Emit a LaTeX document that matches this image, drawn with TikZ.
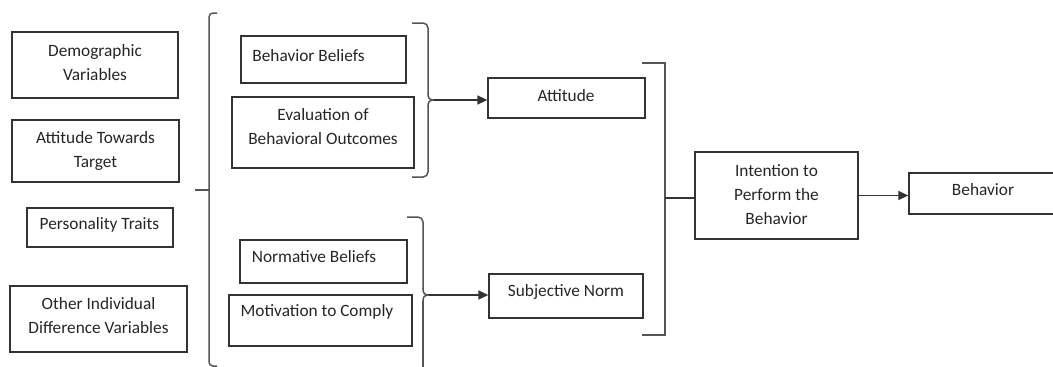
\documentclass[tikz,border=0pt]{standalone}
\usepackage{fontspec}
\setmainfont{Carlito}
\usetikzlibrary{arrows.meta,calc}
\definecolor{linec}{HTML}{333333}
\definecolor{brc}{HTML}{555555}
\definecolor{textc}{HTML}{262626}
\begin{document}
\begin{tikzpicture}[x=1pt,y=-1pt,
  box/.style={draw=linec, line width=1.3pt, inner sep=0pt, rectangle},
  lbl/.style={text=textc, font=\fontsize{17.3}{24}\selectfont, align=center, inner sep=0pt},
  brk/.style={draw=brc, line width=1.5pt},
  conn/.style={draw=linec, line width=1.5pt},
  arr/.style={draw=linec, line width=1.5pt, -{Triangle[length=10pt,width=9pt]}},
]
\useasboundingbox (0,0) rectangle (1053,367);
\clip (0,0) rectangle (1053,367);
\fill[white] (0,0) rectangle (1053,367);

% left column
\node[box, minimum width=166pt, minimum height=66pt] (dem) at (95,65) {};
\node[lbl] (demt) at (95,63) {Demographic\\Variables};
\node[box, minimum width=167pt, minimum height=62pt] (att0) at (95.5,151) {};
\node[lbl] (att0t) at (95.5,150.5) {Attitude Towards\\Target};
\node[box, minimum width=146pt, minimum height=39pt] (per) at (100,227.5) {};
\node[lbl] (pert) at (99.5,225) {Personality Traits};
\node[box, minimum width=177pt, minimum height=66pt] (oth) at (98.5,319) {};
\node[lbl] (otht) at (98.5,316) {Other Individual\\Difference Variables};

% second column
\node[box, minimum width=165pt, minimum height=47pt] (bb) at (323.5,59.5) {};
\node[lbl] (bbt) at (308.5,56) {Behavior Beliefs};
\node[box, minimum width=182pt, minimum height=71pt] (ev) at (323,132.5) {};
\node[lbl] (evt) at (323,127) {Evaluation of\\Behavioral Outcomes};
\node[box, minimum width=167pt, minimum height=43pt] (nb) at (323.5,261.5) {};
\node[lbl] (nbt) at (314,257) {Normative Beliefs};
\node[box, minimum width=183pt, minimum height=51pt] (mc) at (320.5,320.5) {};
\node[lbl] (mct) at (317,312) {Motivation to Comply};

% third column
\node[box, minimum width=157pt, minimum height=40pt] (att) at (566.5,98) {};
\node[lbl] (attt) at (566,96) {Attitude};
\node[box, minimum width=154pt, minimum height=44pt] (sn) at (566,296) {};
\node[lbl] (snt) at (566,292) {Subjective Norm};

% intention and behavior
\node[box, minimum width=163pt, minimum height=87pt] (int) at (776.5,195.5) {};
\node[lbl] (intt) at (776.5,195) {Intention to\\Perform the\\Behavior};
\node[box, minimum width=150pt, minimum height=41pt] (beh) at (984,193.5) {};
\node[lbl] (beht) at (983,189.5) {Behavior};

% left big bracket
\draw[brk, rounded corners=4pt] (217,13) -- (209,13) -- (209,366) -- (217,366);
\coordinate (lt) at (195,190);
\draw[brk] (209,190) -- (lt);

% upper right brace
\coordinate (ua) at (434,100);
\draw[brk, rounded corners=5pt] (412,23) -- (428,23) -- (428,94);
\draw[brk] (428,93) .. controls (428,98) and (429,100) .. (ua);
\draw[brk] (428,107) .. controls (428,102) and (429,100) .. (ua);
\draw[brk, rounded corners=5pt] (428,106) -- (428,177) -- (412,177);
\draw[arr] (ua) -- (ua -| att.west);

% lower right brace
\coordinate (lb) at (429,295);
\draw[brk, rounded corners=5pt] (407,217) -- (423,217) -- (423,289);
\draw[brk] (423,288) .. controls (423,293) and (424,295) .. (lb);
\draw[brk] (423,302) .. controls (423,297) and (424,295) .. (lb);
\draw[brk] (423,301) -- (423,380);
\draw[arr] (lb) -- (lb -| sn.west);

% big right bracket
\draw[brk] (642,63) -- (665,63) -- (665,335) -- (642,335);
\coordinate (rt) at (665,198);
\draw[conn] (rt) -- (rt -| int.west);

% intention -> behavior
\draw[arr] (int.east) -- (int.east -| beh.west);
\end{tikzpicture}
\end{document}
